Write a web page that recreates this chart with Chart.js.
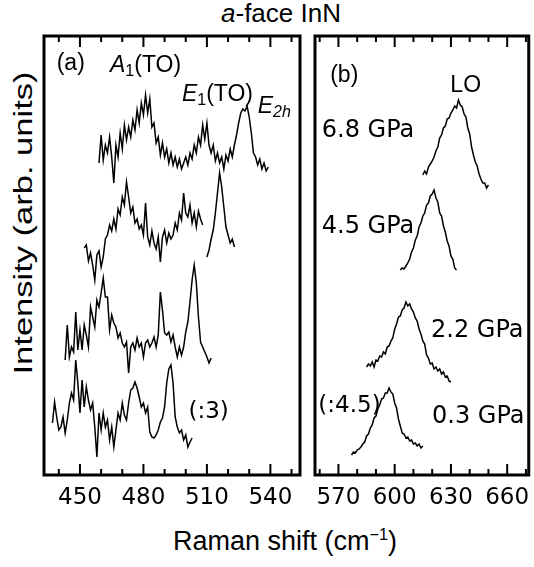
<!DOCTYPE html>
<html>
<head>
<meta charset="utf-8">
<script src="https://cdn.jsdelivr.net/npm/chart.js@4.4.1/dist/chart.umd.min.js"></script>
<style>
  body { margin: 0; background: #fff; }
  #page { position: relative; width: 534px; height: 567px; overflow: hidden; color: #000;
          font-family: 'Liberation Sans', Arial, sans-serif; }
  .panel { position: absolute; }
  .txt { position: absolute; white-space: nowrap; transform: translate(-50%, -50%); }
  sup { font-size: 60%; vertical-align: 0.6em; line-height: 0; }
</style>
</head>
<body>
<div id="page">
  <div class="txt" style="left:281px;top:13px;font-size:26px"><i>a</i>-face InN</div>
  <div class="txt" style="left:285px;top:541px;font-size:27px">Raman shift (cm<sup>&minus;1</sup>)</div>
  <div class="txt" style="left:23px;top:223px;font-size:25px;transform:translate(-50%,-50%) rotate(-90deg) scaleX(1.38)">Intensity (arb. units)</div>
  <div class="panel" style="left:39px;top:31px;width:266px;height:484px"><canvas id="chartA"></canvas></div>
  <div class="panel" style="left:310px;top:31px;width:225px;height:484px"><canvas id="chartB"></canvas></div>
</div>
<script>
// pressures, top to bottom
const pressures = ['6.8 GPa', '4.5 GPa', '2.2 GPa', '0.3 GPa'];

// (a) TO / E2h region: first Raman shift (cm-1) of each trace, 1 cm-1 steps
const toStart = [459, 452, 443, 437];
const toSpec68 = [312,340,315,330,322,338,318,292,330,318,
                  342,326,350,335,348,338,355,345,365,352,
                  372,360,380,362,376,348,352,332,338,320,
                  332,318,326,312,322,310,318,308,316,306,
                  312,318,310,322,316,330,322,338,330,350,
                  336,352,330,322,330,314,322,312,318,306,
                  320,314,326,318,330,340,352,362,366,364,
                  369,358,342,322,318,310,316,306,312,304,
                  308];
const toSpec45 = [227,230,214,222,210,195,220,224,208,218,
                  236,240,250,244,256,246,266,260,278,270,
                  293,278,262,268,252,256,246,250,240,272,
                  238,230,244,232,226,238,213,238,245,232,
                  242,236,240,252,245,262,255,282,262,258,
                  270,252,262,248,264,256,250,null,218,225,
                  236,245,262,282,302,288,268,248,240,232,
                  236,228];
const toSpec22 = [115,150,118,128,123,163,125,145,125,150,
                  140,128,168,158,148,175,168,182,197,178,
                  178,145,160,152,148,137,142,132,128,133,
                  102,128,132,125,137,128,132,118,132,135,
                  128,132,138,128,140,183,165,142,140,143,
                  133,140,128,118,128,120,128,143,153,173,
                  195,210,192,158,133,128,123,118,112,117];
const toSpec03 = [52,73,58,45,48,58,42,55,72,82,
                  75,115,92,62,95,68,88,75,65,72,
                  48,18,62,45,62,48,55,35,48,28,
                  45,62,55,72,60,55,72,85,87,93,
                  87,78,68,72,62,68,43,38,37,40,
                  45,53,57,68,92,106,110,92,58,48,
                  42,45,35,40,28,33,37];

// (b) LO region
const loStart = [615, 603, 585, 577];
const loSpec68 = [300,304,301,308,311,314,318,324,328,337,
                  340,347,349,356,357,362,365,369,367,375,
                  370,368,361,358,347,341,328,320,313,309,
                  301,296,292,292,287,290];
const loSpec45 = [205,207,206,209,212,216,223,227,235,239,
                  248,252,259,262,270,272,279,281,285,277,
                  273,262,259,249,243,234,229,219,216,207,
                  205];
const loSpec22 = [108,111,109,113,108,115,114,119,118,123,
                  121,128,129,134,137,146,151,158,159,165,
                  167,173,169,171,166,163,157,154,146,141,
                  134,131,120,117,111,112,106,108,104,106,
                  101,103,98,99,94,93];
const loSpec03 = [20,23,22,25,26,28,31,33,39,41,
                  47,50,57,59,66,70,76,77,82,82,
                  87,83,81,72,67,56,49,42,41,37,
                  38,34,35,31,32,29,31,27,29];

// axis ranges and ticks
const rangeA = [433, 554];
const rangeB = [557.5, 671.5];
const ticksA = [440, 450, 460, 470, 480, 490, 500, 510, 520, 530, 540, 550];
const ticksB = [560, 570, 580, 590, 600, 610, 620, 630, 640, 650, 660, 670];
const yRange = [0, 439];

const ROMAN = "'Liberation Sans', Arial, sans-serif";
const DEJAVU = "'DejaVu Sans', sans-serif";

function toPoints(start, values) {
    return values.map((v, i) => ({ x: start + i, y: v }));
}

// frame with inward ticks on top and bottom
const framePlugin = {
    id: 'frame',
    afterDraw(chart) {
        const { ctx, chartArea: a, scales: { x } } = chart;
        ctx.save();
        ctx.strokeStyle = '#000';
        ctx.lineWidth = 2;
        x.ticks.forEach(t => {
            const px = x.getPixelForValue(t.value);
            const len = t.value % 30 === 0 ? 11 : 6;
            ctx.beginPath();
            ctx.moveTo(px, a.bottom);
            ctx.lineTo(px, a.bottom - len);
            ctx.moveTo(px, a.top);
            ctx.lineTo(px, a.top + len);
            ctx.stroke();
        });
        ctx.lineWidth = 3;
        ctx.strokeRect(a.left, a.top, a.right - a.left, a.bottom - a.top);
        ctx.restore();
    }
};

// text annotations placed in data coordinates, baseline-left
const notePlugin = {
    id: 'notes',
    afterDatasetsDraw(chart, args, opts) {
        const { ctx, scales: { x, y } } = chart;
        ctx.save();
        ctx.fillStyle = '#000';
        ctx.textBaseline = 'alphabetic';
        ctx.textAlign = 'left';
        opts.items.forEach(item => {
            let px = x.getPixelForValue(item.x);
            const py = y.getPixelForValue(item.y);
            item.parts.forEach(p => {
                ctx.font = p.font;
                ctx.fillText(p.t, px, py + (p.dy || 0));
                px += ctx.measureText(p.t).width;
            });
        });
        ctx.restore();
    }
};

function baseOptions(range, tickList, notes) {
    return {
        responsive: true,
        maintainAspectRatio: false,
        animation: false,
        layout: { padding: { left: 5, right: 5, top: 5, bottom: 0 } },
        plugins: {
            legend: { display: false },
            tooltip: { enabled: false },
            notes: { items: notes }
        },
        elements: {
            point: { radius: 0 },
            line: { borderColor: '#000', borderWidth: 1.5, tension: 0 }
        },
        scales: {
            x: {
                type: 'linear',
                min: range[0],
                max: range[1],
                grid: { display: false, drawTicks: false },
                border: { display: false },
                afterBuildTicks: s => { s.ticks = tickList.map(v => ({ value: v })); },
                afterFit: s => { s.height = 40; },
                ticks: {
                    autoSkip: false,
                    maxRotation: 0,
                    padding: 9,
                    color: '#000',
                    font: { family: DEJAVU, size: 23 },
                    callback: v => (v % 30 === 0 ? String(v) : '')
                }
            },
            y: { display: false, min: yRange[0], max: yRange[1] }
        }
    };
}

const roman = s => s + 'px ' + ROMAN;
const ital = s => 'italic ' + s + 'px ' + ROMAN;
const dv = s => s + 'px ' + DEJAVU;

const notesA = [
    { x: 439, y: 405, parts: [{ t: '(a)', font: roman(23) }] },
    { x: 464.2, y: 403, parts: [{ t: 'A', font: ital(23) }, { t: '1', font: roman(16), dy: 4 }, { t: '(TO)', font: roman(23) }] },
    { x: 498.2, y: 374, parts: [{ t: 'E', font: ital(23) }, { t: '1', font: roman(16), dy: 4 }, { t: '(TO)', font: roman(23) }] },
    { x: 534, y: 362, parts: [{ t: 'E', font: ital(23) }, { t: '2h', font: ital(16), dy: 4 }] },
    { x: 501.3, y: 57, parts: [{ t: '(:3)', font: dv(23) }] }
];
const notesB = [
    { x: 565.6, y: 393, parts: [{ t: '(b)', font: roman(23) }] },
    { x: 629.7, y: 383, parts: [{ t: 'LO', font: roman(23) }] },
    { x: 561.1, y: 338, parts: [{ t: pressures[0], font: dv(24) }] },
    { x: 561.1, y: 242, parts: [{ t: pressures[1], font: dv(24) }] },
    { x: 619.4, y: 138, parts: [{ t: pressures[2], font: dv(24) }] },
    { x: 619.9, y: 52, parts: [{ t: pressures[3], font: dv(24) }] },
    { x: 559.3, y: 63, parts: [{ t: '(:4.5)', font: dv(23) }] }
];

const toSpectra = [toSpec68, toSpec45, toSpec22, toSpec03];
const loSpectra = [loSpec68, loSpec45, loSpec22, loSpec03];

new Chart(document.getElementById('chartA'), {
    type: 'line',
    data: {
        datasets: toSpectra.map((s, i) => ({
            label: pressures[i],
            data: toPoints(toStart[i], s),
            spanGaps: false
        }))
    },
    options: baseOptions(rangeA, ticksA, notesA),
    plugins: [framePlugin, notePlugin]
});

new Chart(document.getElementById('chartB'), {
    type: 'line',
    data: {
        datasets: loSpectra.map((s, i) => ({
            label: pressures[i],
            data: toPoints(loStart[i], s)
        }))
    },
    options: baseOptions(rangeB, ticksB, notesB),
    plugins: [framePlugin, notePlugin]
});
</script>
</body>
</html>
